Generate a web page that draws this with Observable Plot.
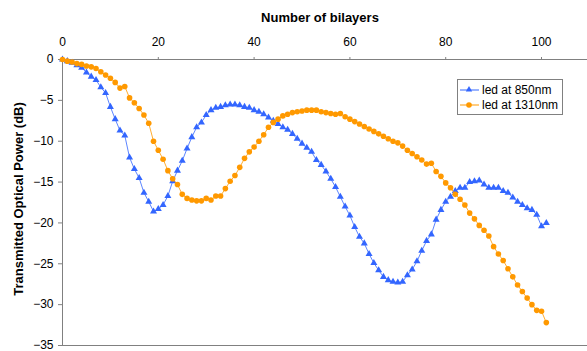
<!DOCTYPE html>
<html>
<head>
<meta charset="utf-8">
<script src="https://cdn.jsdelivr.net/npm/d3@7"></script>
<script src="https://cdn.jsdelivr.net/npm/@observablehq/plot@0.6"></script>
<style>
  html, body { margin: 0; padding: 0; background: #fff; }
  #wrap { position: relative; width: 587px; height: 351px; font-family: "Liberation Sans", Arial, sans-serif; }
  #wrap svg { position: absolute; left: 0; top: 0; }
  .xtitle { position: absolute; left: 320px; top: 10px; transform: translateX(-50%); font-weight: bold; font-size: 13px; white-space: nowrap; }
  .ytitle { position: absolute; left: 18px; top: 199px; transform: translate(-50%, -50%) rotate(-90deg); font-weight: bold; font-size: 13px; white-space: nowrap; }
  .legend { position: absolute; left: 457px; top: 79px; width: 104px; height: 34px; border: 1px solid #808080; background: #fff; font-size: 12px; }
  .legend .row { position: absolute; left: 2px; height: 16px; display: flex; align-items: center; white-space: nowrap; }
  .legend svg { position: static !important; margin-right: 3px; }
</style>
</head>
<body>
<div id="wrap">
  <div class="xtitle">Number of bilayers</div>
  <div class="ytitle">Transmitted Optical Power (dB)</div>
</div>
<script>
const bilayers = [0,1,2,3,4,5,6,7,8,9,10,11,12,13,14,15,16,17,18,19,20,21,22,23,24,25,26,27,28,29,30,31,32,33,34,35,36,37,38,39,40,41,42,43,44,45,46,47,48,49,50,51,52,53,54,55,56,57,58,59,60,61,62,63,64,65,66,67,68,69,70,71,72,73,74,75,76,77,78,79,80,81,82,83,84,85,86,87,88,89,90,91,92,93,94,95,96,97,98,99,100,101];

const led850 = [0,-0.2,-0.4,-0.7,-1.0,-1.6,-2.1,-2.5,-3.4,-4.1,-5.8,-7.3,-8.7,-9.3,-12.0,-13.4,-14.5,-16.3,-17.4,-18.6,-18.3,-17.8,-16.7,-14.9,-13.6,-12.4,-10.9,-9.5,-8.3,-7.7,-6.8,-6.2,-5.9,-5.8,-5.6,-5.5,-5.5,-5.6,-5.8,-5.9,-6.2,-6.4,-6.7,-7.1,-7.5,-7.9,-8.3,-8.6,-9.1,-9.7,-10.3,-10.8,-11.3,-12.3,-12.9,-13.7,-14.6,-15.6,-16.8,-18.0,-19.1,-20.5,-21.7,-22.5,-23.8,-24.9,-25.8,-26.6,-27.0,-27.2,-27.3,-27.2,-26.4,-25.7,-24.7,-23.4,-22.2,-21.4,-19.6,-18.4,-17.4,-16.8,-16.1,-15.7,-15.7,-15.0,-14.9,-14.8,-15.3,-15.7,-15.7,-15.7,-16.1,-16.3,-16.9,-17.4,-17.8,-18.2,-18.4,-19.0,-20.4,-20.0];

const led1310 = [0,-0.2,-0.3,-0.5,-0.6,-0.8,-0.9,-1.1,-1.5,-1.9,-2.3,-2.8,-3.5,-3.3,-4.7,-5.3,-6.0,-6.8,-7.8,-10.0,-11.1,-12.2,-13.6,-14.6,-15.3,-16.5,-17.0,-17.2,-17.3,-17.3,-17.0,-17.2,-16.7,-16.7,-15.8,-14.9,-14.2,-13.2,-12.1,-11.3,-10.7,-10.0,-9.2,-8.3,-7.7,-7.3,-6.9,-6.7,-6.5,-6.4,-6.3,-6.2,-6.2,-6.2,-6.4,-6.5,-6.6,-6.7,-6.6,-7.0,-7.3,-7.6,-7.9,-8.2,-8.5,-8.8,-9.1,-9.4,-9.7,-10.0,-10.2,-10.6,-11.1,-11.5,-11.9,-12.3,-12.8,-12.7,-13.7,-14.3,-15.1,-15.7,-16.5,-17.1,-17.8,-18.8,-19.5,-20.3,-20.9,-21.6,-22.9,-23.8,-24.6,-25.6,-26.6,-27.6,-28.4,-29.2,-30.0,-30.7,-30.8,-32.2];

const seriesNames = ["led at 850nm", "led at 1310nm"];
const xTicks = [0, 20, 40, 60, 80, 100];
const yTicks = [0, -5, -10, -15, -20, -25, -30, -35];

const blue = "#3366ff";
const orange = "#ff9900";
const axisGrey = "#808080";

const d850 = bilayers.map((b, i) => ({x: b, y: led850[i]}));
const d1310 = bilayers.map((b, i) => ({x: b, y: led1310[i]}));

const chart = Plot.plot({
  width: 587,
  height: 351,
  marginLeft: 62,
  marginRight: 0,
  marginTop: 59,
  marginBottom: 6,
  style: {fontFamily: "'Liberation Sans', Arial, sans-serif", fontSize: "12px", color: "#000", background: "transparent"},
  x: {domain: [0, 109.6]},
  y: {domain: [-35, 0]},
  marks: [
    Plot.axisX({anchor: "top", ticks: xTicks, tickSize: 3, tickPadding: 11, stroke: axisGrey, label: null, fill: "#000"}),
    Plot.axisY({anchor: "left", ticks: yTicks, tickSize: 4, tickPadding: 5, stroke: axisGrey, label: null, fill: "#000"}),
    Plot.ruleY([0], {stroke: axisGrey, strokeWidth: 1}),
    Plot.ruleY([-35], {stroke: axisGrey, strokeWidth: 1}),
    Plot.ruleX([0], {stroke: axisGrey, strokeWidth: 1}),
    Plot.line(d850, {x: "x", y: "y", stroke: blue, strokeWidth: 1, strokeOpacity: 0.8}),
    Plot.dot(d850, {x: "x", y: "y", symbol: "triangle", r: 2.6, fill: blue, stroke: "none"}),
    Plot.line(d1310, {x: "x", y: "y", stroke: orange, strokeWidth: 1, strokeOpacity: 0.8}),
    Plot.dot(d1310, {x: "x", y: "y", symbol: "circle", r: 2.8, fill: orange, stroke: "none"})
  ]
});
document.getElementById("wrap").appendChild(chart);

// legend
const legend = document.createElement("div");
legend.className = "legend";
[[blue, "triangle"], [orange, "circle"]].forEach(([c, s], i) => {
  const row = document.createElement("div");
  row.className = "row";
  row.style.top = (i === 0 ? 2 : 17) + "px";
  const marker = s === "triangle"
    ? `<path d="M9,4 L12.2,9.5 L5.8,9.5 Z" fill="${c}"/>`
    : `<circle cx="9" cy="8" r="2.8" fill="${c}"/>`;
  row.innerHTML = `<svg width="19" height="16"><line x1="0" x2="19" y1="8" y2="8" stroke="${c}" stroke-width="1"/>${marker}</svg><span>${seriesNames[i]}</span>`;
  legend.appendChild(row);
});
document.getElementById("wrap").appendChild(legend);
</script>
</body>
</html>
